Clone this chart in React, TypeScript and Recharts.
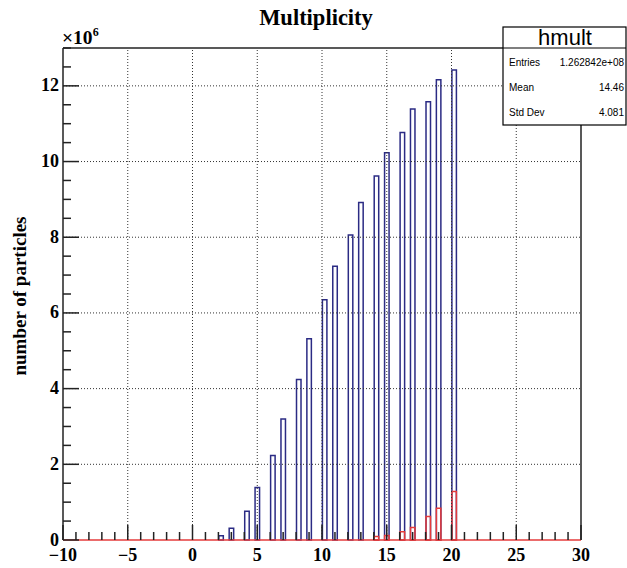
import * as React from "react";
import { ComposedChart, Bar, XAxis, YAxis, ReferenceLine } from "recharts";

// bin centres (bin width 0.4, 100 bins on [-10, 30])
const binCenters = [2.2, 3.0, 4.2, 5.0, 6.2, 7.0, 8.2, 9.0, 10.2, 11.0, 12.2, 13.0, 14.2, 15.0, 16.2, 17.0, 18.2, 19.0, 20.2];
// counts, in units of 1e6
const hmult = [0.11, 0.31, 0.76, 1.39, 2.23, 3.2, 4.24, 5.32, 6.35, 7.23, 8.06, 8.92, 9.62, 10.23, 10.77, 11.39, 11.58, 12.16, 12.42];
const hmultSub = [0, 0, 0, 0, 0, 0, 0, 0, 0, 0, 0, 0, 0.09, 0.12, 0.22, 0.33, 0.62, 0.84, 1.28];

const xTicks = [-10, -9, -8, -7, -6, -5, -4, -3, -2, -1, 0, 1, 2, 3, 4, 5, 6, 7, 8, 9, 10, 11, 12, 13, 14, 15, 16, 17, 18, 19, 20, 21, 22, 23, 24, 25, 26, 27, 28, 29, 30];
const xGrid = [-5, 0, 5, 10, 15, 20, 25];
const yTicks = [0, 0.5, 1, 1.5, 2, 2.5, 3, 3.5, 4, 4.5, 5, 5.5, 6, 6.5, 7, 7.5, 8, 8.5, 9, 9.5, 10, 10.5, 11, 11.5, 12, 12.5, 13];
const yGrid = [2, 4, 6, 8, 10, 12];

const stats = [
  { name: "Entries", value: "1.262842e+08" },
  { name: "Mean", value: "14.46" },
  { name: "Std Dev", value: "4.081" },
];

const data = binCenters.map((x, i) => ({ x, all: hmult[i] * 1e6, sub: hmultSub[i] * 1e6 }));

const serif = "'Liberation Serif', 'Times New Roman', serif";
const sans = "'Liberation Sans', Arial, sans-serif";
const ink = "#222";

function XTick(props: any) {
  const { x, y, payload } = props;
  const v = payload.value;
  const major = v % 5 === 0;
  return (
    <g>
      <line x1={x} y1={y} x2={x} y2={y - (major ? 15 : 8)} stroke={ink} strokeWidth={1.5} />
      {major && (
        <text x={x} y={y + 21} textAnchor="middle" fontFamily={serif} fontWeight="bold" fontSize={18} fill="#000">
          {v < 0 ? "\u2212" + Math.abs(v) : v}
        </text>
      )}
    </g>
  );
}

function YTick(props: any) {
  const { x, y, payload } = props;
  const v = payload.value / 1e6;
  const major = v % 2 === 0;
  return (
    <g>
      <line x1={x} y1={y} x2={x + (major ? 16 : 8)} y2={y} stroke={ink} strokeWidth={1.5} />
      {major && (
        <text x={x - 4} y={y + 5.5} textAnchor="end" fontFamily={serif} fontWeight="bold" fontSize={18} fill="#000">
          {v}
        </text>
      )}
    </g>
  );
}

export default function App() {
  return (
    <div style={{ position: "absolute", left: 0, top: 0, width: 627, height: 568, background: "#fff" }}>
      <ComposedChart width={627} height={568} data={data} margin={{ top: 48, right: 46, left: 3, bottom: 0 }}>
        <XAxis
          dataKey="x"
          type="number"
          domain={[-10, 30]}
          ticks={xTicks}
          interval={0}
          height={28}
          axisLine={false}
          tickLine={false}
          tickSize={0}
          tickMargin={0}
          tick={<XTick />}
        />
        <XAxis xAxisId="sub" dataKey="x" type="number" domain={[-10, 30]} hide />
        <YAxis
          type="number"
          domain={[0, 13e6]}
          ticks={yTicks.map((t) => t * 1e6)}
          interval={0}
          width={60}
          axisLine={{ stroke: ink, strokeWidth: 1.5 }}
          tickLine={false}
          tickSize={0}
          tickMargin={0}
          tick={<YTick />}
        />
        {xGrid.map((v) => (
          <ReferenceLine key={"gx" + v} x={v} stroke="#333" strokeDasharray="1 2" />
        ))}
        {yGrid.map((v) => (
          <ReferenceLine key={"gy" + v} y={v * 1e6} stroke="#333" strokeDasharray="1 2" />
        ))}
        <ReferenceLine y={13e6} stroke={ink} strokeWidth={1.5} />
        <ReferenceLine x={30} stroke={ink} strokeWidth={1.5} />
        <Bar dataKey="all" fill="none" stroke="#2b2b84" strokeWidth={1.5} barSize={4.5} isAnimationActive={false} />
        <Bar dataKey="sub" xAxisId="sub" fill="none" stroke="#e53b3b" strokeWidth={1.5} barSize={4.5} isAnimationActive={false} />
        <ReferenceLine y={0} stroke="#e53b3b" strokeWidth={1.5} />
      </ComposedChart>
      <svg width={627} height={568} style={{ position: "absolute", left: 0, top: 0, pointerEvents: "none" }}>
        <text x={316} y={25} textAnchor="middle" fontFamily={serif} fontWeight="bold" fontSize={22.5}>
          Multiplicity
        </text>
        <text x={62} y={44} fontFamily={serif} fontWeight="bold" fontSize={19.5}>
          ×10
          <tspan dy={-8} fontSize={12}>
            6
          </tspan>
        </text>
        <text
          transform="translate(26,296) rotate(-90)"
          textAnchor="middle"
          fontFamily={serif}
          fontWeight="bold"
          fontSize={19}
        >
          number of particles
        </text>
        <rect x={503} y={27} width={123} height={98} fill="#fff" stroke="#000" strokeWidth={1.2} />
        <line x1={503} y1={48} x2={626} y2={48} stroke="#000" strokeWidth={1.2} />
        <text x={565} y={45} textAnchor="middle" fontFamily={sans} fontSize={22}>
          hmult
        </text>
        {stats.map((s, i) => (
          <g key={s.name}>
            <text x={509} y={66 + i * 25} fontFamily={sans} fontSize={10}>
              {s.name}
            </text>
            <text x={624} y={66 + i * 25} textAnchor="end" fontFamily={sans} fontSize={10}>
              {s.value}
            </text>
          </g>
        ))}
      </svg>
    </div>
  );
}
